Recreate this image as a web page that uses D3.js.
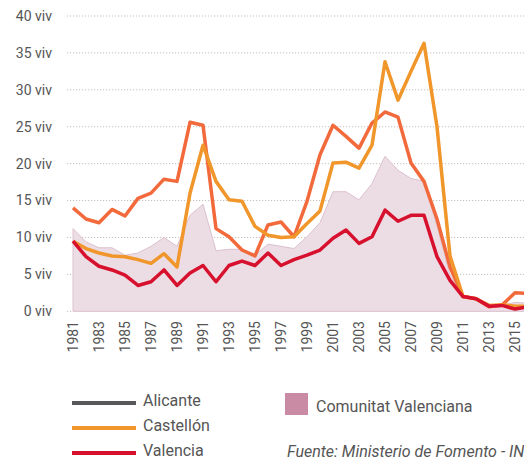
<!DOCTYPE html>
<html>
<head>
<meta charset="utf-8">
<script src="https://cdn.jsdelivr.net/npm/d3@7"></script>
<style>
  html, body { margin: 0; padding: 0; background: #fff; overflow: hidden; }
  svg { display: block; font-family: Roboto, "Noto Sans", sans-serif; }
</style>
</head>
<body>
<svg id="chart" width="560" height="459"></svg>
<script>
// Years on the x axis
const years = [1981, 1982, 1983, 1984, 1985, 1986, 1987, 1988, 1989, 1990,
  1991, 1992, 1993, 1994, 1995, 1996, 1997, 1998, 1999, 2000,
  2001, 2002, 2003, 2004, 2005, 2006, 2007, 2008, 2009, 2010,
  2011, 2012, 2013, 2014, 2015, 2016];

const alicante = [14.0, 12.5, 12.0, 13.8, 12.9, 15.3, 16.0, 17.9, 17.6, 25.6,
  25.2, 11.2, 10.1, 8.3, 7.5, 11.7, 12.1, 10.1, 14.9, 21.2,
  25.2, 23.7, 22.1, 25.5, 27.0, 26.3, 20.1, 17.6, 12.5, 6.0,
  2.0, 1.7, 0.6, 0.85, 2.5, 2.4];

const castellon = [9.5, 8.5, 7.9, 7.5, 7.4, 7.0, 6.5, 7.8, 6.0, 16.0,
  22.5, 17.6, 15.1, 14.9, 11.5, 10.3, 10.0, 10.1, 11.9, 13.6,
  20.1, 20.2, 19.4, 22.5, 33.8, 28.6, 32.5, 36.3, 25.0, 7.5,
  2.0, 1.7, 0.8, 0.9, 0.7, 0.7];

const valencia = [9.5, 7.4, 6.1, 5.6, 4.9, 3.5, 4.0, 5.6, 3.5, 5.2,
  6.2, 4.0, 6.2, 6.8, 6.2, 7.9, 6.2, 7.0, 7.6, 8.3,
  9.9, 11.0, 9.2, 10.1, 13.7, 12.2, 13.0, 13.0, 7.4, 4.2,
  2.0, 1.7, 0.7, 0.8, 0.3, 0.6];

const comunitat = [11.2, 9.4, 8.6, 8.6, 7.6, 7.9, 8.8, 10.0, 8.8, 13.0,
  14.5, 8.2, 8.4, 8.4, 7.6, 9.1, 8.8, 8.5, 10.1, 12.0,
  16.2, 16.2, 15.1, 17.3, 21.0, 19.1, 18.0, 17.6, 11.5, 5.0,
  2.0, 1.7, 0.7, 0.8, 1.2, 1.1];

const yTicks = [0, 5, 10, 15, 20, 25, 30, 35, 40];
const xTickYears = [1981, 1983, 1985, 1987, 1989, 1991, 1993, 1995, 1997, 1999,
  2001, 2003, 2005, 2007, 2009, 2011, 2013, 2015];

const svg = d3.select("#chart");

const x = d3.scaleLinear().domain([1981, 2015]).range([73, 515]);
const y = d3.scaleLinear().domain([0, 40]).range([311.3, 16]);

// grid + y labels
const grid = svg.append("g");
grid.selectAll("line")
  .data(yTicks)
  .enter()
  .append("line")
  .attr("x1", 67)
  .attr("x2", 560)
  .attr("y1", d => y(d))
  .attr("y2", d => y(d))
  .attr("stroke", "#c4bfb8")
  .attr("stroke-width", 1)
  .attr("stroke-dasharray", "1.2,1.8");

grid.selectAll("text")
  .data(yTicks)
  .enter()
  .append("text")
  .attr("x", 52)
  .attr("y", d => y(d))
  .attr("dy", "0.35em")
  .attr("text-anchor", "end")
  .style("font-size", "14px")
  .style("fill", "#555")
  .text(d => `${d} viv`);

// area for the whole region
const series = years.map((yr, i) => ({ yr, a: alicante[i], c: castellon[i], v: valencia[i], t: comunitat[i] }));

const area = d3.area()
  .x(d => x(d.yr))
  .y0(y(0))
  .y1(d => y(d.t));

svg.append("path")
  .datum(series)
  .attr("d", area)
  .attr("fill", "#ecdce4")
  .attr("stroke", "#dcc1cf")
  .attr("stroke-width", 1);

// lines
const lines = [
  { key: "a", color: "#f26a3c" },
  { key: "c", color: "#f0962a" },
  { key: "v", color: "#d7102e" }
];

lines.forEach(s => {
  const line = d3.line()
    .x(d => x(d.yr))
    .y(d => y(d[s.key]));
  svg.append("path")
    .datum(series)
    .attr("d", line)
    .attr("fill", "none")
    .attr("stroke", s.color)
    .attr("stroke-width", 3.5)
    .attr("stroke-linejoin", "round");
});

// x labels (rotated)
svg.append("g")
  .selectAll("text")
  .data(xTickYears)
  .enter()
  .append("text")
  .attr("transform", d => `translate(${x(d)},321) rotate(-90)`)
  .attr("dy", "0.35em")
  .attr("text-anchor", "end")
  .style("font-size", "14px")
  .style("fill", "#555")
  .text(d => d);

// legend
const legendItems = [
  { name: "Alicante", color: "#58585a", y: 403 },
  { name: "Castellón", color: "#f0962a", y: 428 },
  { name: "Valencia", color: "#d7102e", y: 453 }
];

const legend = svg.append("g");
legend.selectAll("line")
  .data(legendItems)
  .enter()
  .append("line")
  .attr("x1", 72)
  .attr("x2", 136)
  .attr("y1", d => d.y)
  .attr("y2", d => d.y)
  .attr("stroke", d => d.color)
  .attr("stroke-width", 4);

legend.selectAll("text")
  .data(legendItems)
  .enter()
  .append("text")
  .attr("x", 143)
  .attr("y", d => d.y - 3)
  .attr("dy", "0.35em")
  .style("font-size", "16px")
  .style("fill", "#555")
  .text(d => d.name);

legend.append("rect")
  .attr("x", 285)
  .attr("y", 393)
  .attr("width", 23)
  .attr("height", 22)
  .attr("fill", "#c98aa3");

legend.append("text")
  .attr("x", 316)
  .attr("y", 412)
  .style("font-size", "16px")
  .style("fill", "#555")
  .text("Comunitat Valenciana");

legend.append("text")
  .attr("x", 287)
  .attr("y", 457)
  .style("font-size", "16px")
  .style("font-style", "italic")
  .style("fill", "#555")
  .text("Fuente: Ministerio de Fomento - INE");
</script>
</body>
</html>
